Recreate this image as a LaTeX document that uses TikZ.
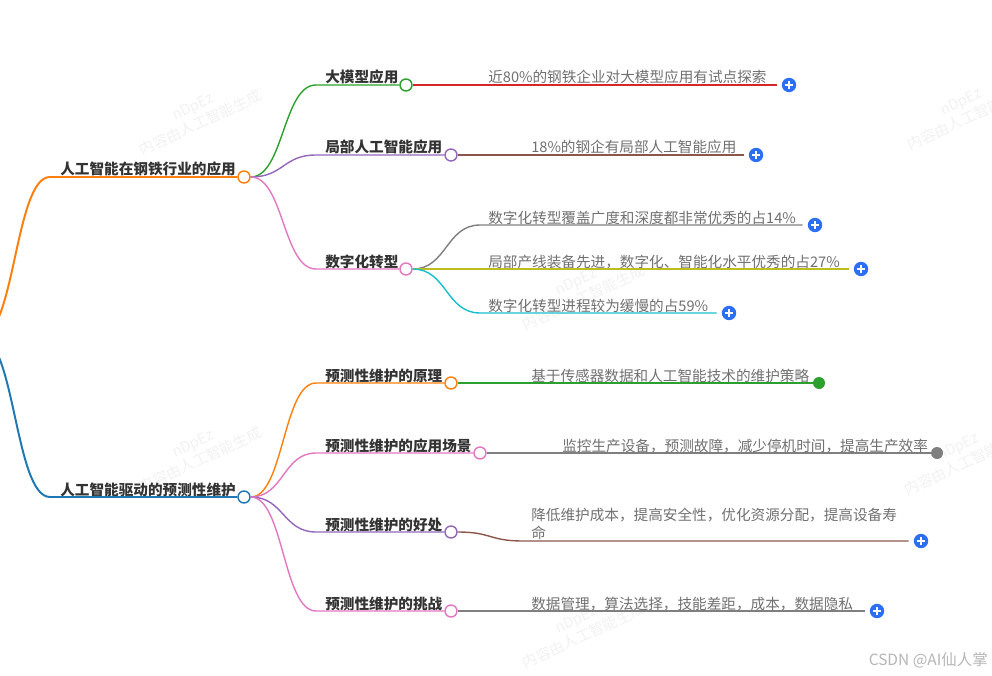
\documentclass[tikz,border=0pt]{standalone}
\usepackage{fontspec}
\setmainfont{Noto Sans CJK SC}
\definecolor{cOrange}{HTML}{FF7F0E}
\definecolor{cBlue}{HTML}{1F77B4}
\definecolor{cGreen}{HTML}{2CA02C}
\definecolor{cPurple}{HTML}{9467BD}
\definecolor{cPink}{HTML}{E377C2}
\definecolor{cRed}{HTML}{D62728}
\definecolor{cBrown}{HTML}{8C564B}
\definecolor{cGray}{HTML}{7F7F7F}
\definecolor{cOlive}{HTML}{BCBD22}
\definecolor{cCyan}{HTML}{17BECF}
\definecolor{addblue}{HTML}{2B6FF4}
\definecolor{titlegray}{HTML}{333333}
\definecolor{leafgray}{HTML}{707070}
\definecolor{markgray}{HTML}{F1F1F1}
\definecolor{csdngray}{HTML}{B5B5B5}
\begin{document}
\begin{tikzpicture}[
    x=0.025cm, y=-0.025cm,
    hubdot/.style={circle, draw=#1, fill=white, line width=1pt, inner sep=0pt, minimum size=0.3cm},
    enddot/.style={circle, fill=#1, inner sep=0pt, minimum size=0.3cm},
    addbtn/.style={circle, fill=addblue, inner sep=0pt, minimum size=0.36cm,
        path picture={\draw[white, line width=1.1pt]
            ([xshift=-0.1cm]path picture bounding box.center) -- ([xshift=0.1cm]path picture bounding box.center)
            ([yshift=-0.1cm]path picture bounding box.center) -- ([yshift=0.1cm]path picture bounding box.center);}},
    titletext/.style={anchor=base west, inner sep=0pt, font=\fontsize{10.4pt}{13pt}\selectfont\bfseries, text=titlegray},
    leaftext/.style={anchor=base west, inner sep=0pt, font=\fontsize{10.4pt}{12.8pt}\selectfont, text=leafgray},
    trunk/.style={line width=1.4pt, draw=#1},
    branch/.style={line width=1pt, draw=#1},
    watermark/.style={align=center, rotate=25, text=markgray, font=\fontsize{10.5pt}{13pt}\selectfont}
]
\useasboundingbox (0,0) rectangle (992,676);

% Watermarks
\foreach \wx/\wy in {197/115, 580/290, 965/110, 197/452, 580/628, 962/455}
    \node[watermark] at (\wx,\wy) {nDpEz\\内容由人工智能生成};

% Root
\coordinate (root) at (-20,337);

% Level 1
\coordinate (steelL) at (50,177);
\node[hubdot=cOrange] (steel) at (244,177) {};
\node[titletext] (steelT) at (60,175) {人工智能在钢铁行业的应用};

\coordinate (maintL) at (50,497);
\node[hubdot=cBlue] (maint) at (244,497) {};
\node[titletext] (maintT) at (60,495) {人工智能驱动的预测性维护};

\draw[trunk=cOrange] (root) .. controls +(35,0) and +(-35,0) .. (steelL) -- (steel.west);
\draw[trunk=cBlue] (root) .. controls +(35,0) and +(-35,0) .. (maintL) -- (maint.west);

% Level 2 - steel
\coordinate (llmL) at (316,85);
\node[hubdot=cGreen] (llm) at (406,85) {};
\node[titletext] (llmT) at (325,83) {大模型应用};

\coordinate (localL) at (316,155);
\node[hubdot=cPurple] (local) at (451,155) {};
\node[titletext] (localT) at (325,153) {局部人工智能应用};

\coordinate (digitalL) at (316,269);
\node[hubdot=cPink] (digital) at (406,269) {};
\node[titletext] (digitalT) at (325,267) {数字化转型};

\draw[branch=cGreen] (steel.east) .. controls +(33,0) and +(-33,0) .. (llmL) -- (llm.west);
\draw[branch=cPurple] (steel.east) .. controls +(33,0) and +(-33,0) .. (localL) -- (local.west);
\draw[branch=cPink] (steel.east) .. controls +(33,0) and +(-33,0) .. (digitalL) -- (digital.west);

% Level 2 - maintenance
\coordinate (principleL) at (316,383);
\node[hubdot=cOrange] (principle) at (451,383) {};
\node[titletext] (principleT) at (325,381) {预测性维护的原理};

\coordinate (sceneL) at (316,453);
\node[hubdot=cPink] (scene) at (480,453) {};
\node[titletext] (sceneT) at (325,451) {预测性维护的应用场景};

\coordinate (benefitL) at (316,532);
\node[hubdot=cPurple] (benefit) at (451,532) {};
\node[titletext] (benefitT) at (325,530) {预测性维护的好处};

\coordinate (challengeL) at (316,611);
\node[hubdot=cPink] (challenge) at (451,611) {};
\node[titletext] (challengeT) at (325,609) {预测性维护的挑战};

\draw[branch=cOrange] (maint.east) .. controls +(33,0) and +(-33,0) .. (principleL) -- (principle.west);
\draw[branch=cPink] (maint.east) .. controls +(33,0) and +(-33,0) .. (sceneL) -- (scene.west);
\draw[branch=cPurple] (maint.east) .. controls +(33,0) and +(-33,0) .. (benefitL) -- (benefit.west);
\draw[branch=cPink] (maint.east) .. controls +(33,0) and +(-33,0) .. (challengeL) -- (challenge.west);

% Leaves - steel
\node[addbtn] (llmAdd) at (789,85) {};
\node[leaftext] (llmLeaf) at (488,83) {近80\%的钢铁企业对大模型应用有试点探索};
\draw[branch=cRed, shorten >=3.5pt] (llm.east) -- (llmAdd.west);

\node[addbtn] (localAdd) at (756,155) {};
\node[leaftext] (localLeaf) at (531,153) {18\%的钢企有局部人工智能应用};
\draw[branch=cBrown, shorten >=3.5pt] (local.east) -- (localAdd.west);

\coordinate (dig1L) at (480,225);
\node[addbtn] (dig1Add) at (815,225) {};
\node[leaftext] (dig1Leaf) at (488,223) {数字化转型覆盖广度和深度都非常优秀的占14\%};
\draw[branch=cGray, shorten >=3.5pt] (digital.east) .. controls +(34,0) and +(-34,0) .. (dig1L) -- (dig1Add.west);

\node[addbtn] (dig2Add) at (861,269) {};
\node[leaftext] (dig2Leaf) at (488,267) {局部产线装备先进，数字化、智能化水平优秀的占27\%};
\draw[branch=cOlive, shorten >=3.5pt] (digital.east) -- (dig2Add.west);

\coordinate (dig3L) at (480,313);
\node[addbtn] (dig3Add) at (729,313) {};
\node[leaftext] (dig3Leaf) at (488,311) {数字化转型进程较为缓慢的占59\%};
\draw[branch=cCyan, shorten >=3.5pt] (digital.east) .. controls +(34,0) and +(-34,0) .. (dig3L) -- (dig3Add.west);

% Leaves - maintenance
\node[enddot=cGreen] (principleDot) at (819,383) {};
\node[leaftext] (principleLeaf) at (531,381) {基于传感器数据和人工智能技术的维护策略};
\draw[branch=cGreen] (principle.east) -- (principleDot.west);

\node[enddot=cGray] (sceneDot) at (937,453) {};
\node[leaftext] (sceneLeaf) at (562,451) {监控生产设备，预测故障，减少停机时间，提高生产效率};
\draw[branch=cGray] (scene.east) -- (sceneDot.west);

\coordinate (benL) at (523,541);
\node[addbtn] (benefitAdd) at (921,541) {};
\node[leaftext, anchor=south west, align=left] (benefitLeaf) at (531,540) {降低维护成本，提高安全性，优化资源分配，提高设备寿\\命};
\draw[branch=cBrown, shorten >=3.5pt] (benefit.east) .. controls +(34,0) and +(-34,0) .. (benL) -- (benefitAdd.west);

\node[addbtn] (challengeAdd) at (877,611) {};
\node[leaftext] (challengeLeaf) at (531,609) {数据管理，算法选择，技能差距，成本，数据隐私};
\draw[branch=cGray, shorten >=3.5pt] (challenge.east) -- (challengeAdd.west);

% Credit
\node[anchor=base east, inner sep=0pt, text=csdngray, font=\fontsize{11pt}{13pt}\selectfont] (csdn) at (988,665) {CSDN @AI仙人掌};

\end{tikzpicture}
\end{document}
